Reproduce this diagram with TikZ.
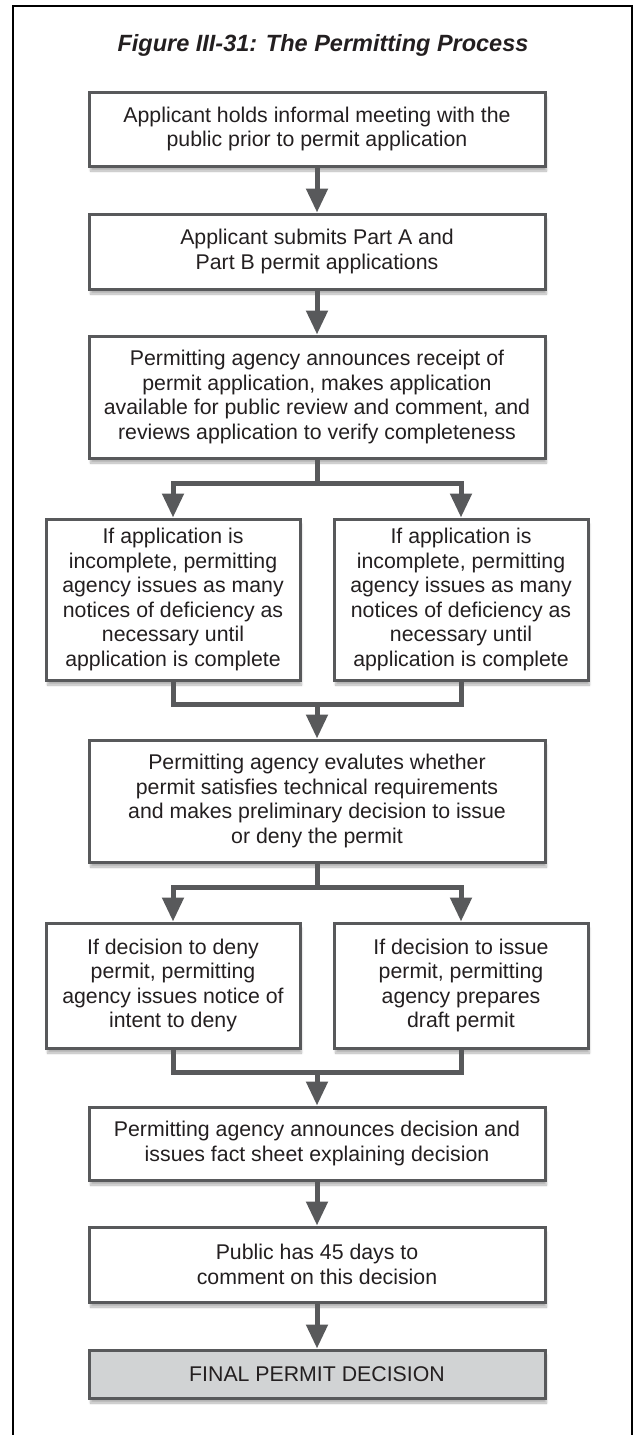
\documentclass[tikz,border=0pt]{standalone}
\usepackage{fontspec}
\setmainfont{Liberation Sans}
\usetikzlibrary{arrows.meta, shadows.blur}

\definecolor{boxgray}{HTML}{58595B}
\definecolor{finalfill}{HTML}{D1D3D4}
\definecolor{inktext}{HTML}{231F20}

\tikzset{
  stepbox/.style={draw=boxgray, line width=3pt, fill=white, align=center, inner sep=0pt,
    minimum width=456pt, text=inktext, font=\fontsize{21.3}{24.5}\selectfont,
    blur shadow={shadow xshift=1.5pt, shadow yshift=-5pt, shadow blur steps=6, shadow opacity=30}},
  halfbox/.style={stepbox, minimum width=254pt},
  link/.style={draw=boxgray, line width=5pt},
  flow/.style={link, -{Triangle[width=21pt,length=24pt]}},
}

\begin{document}
\begin{tikzpicture}[x=1pt, y=-1pt]
  \useasboundingbox (0,0) rectangle (639,1435);
  \draw[line width=2.5pt] (13,1445) -- (13,6) -- (632,6) -- (632,1445);
  \node[font=\bfseries\itshape\fontsize{23.5}{27}\selectfont, text=inktext, anchor=base] (title) at (323,51) {Figure III-31: The Permitting Process};

  % main column
  \node[stepbox, minimum height=74pt] (meeting) at (317,129) {Applicant holds informal meeting with the\\public prior to permit application};
  \node[stepbox, minimum height=75pt] (submit) at (317,251.5) {Applicant submits Part A and\\Part B permit applications};
  \node[stepbox, minimum height=122pt] (receipt) at (317,397) {Permitting agency announces receipt of\\permit application, makes application\\available for public review and comment, and\\reviews application to verify completeness};
  \coordinate (split1) at (317,483);
  \node[halfbox, minimum height=161pt] (incL) at (173,599.5) {If application is\\incomplete, permitting\\agency issues as many\\notices of deficiency as\\necessary until\\application is complete};
  \node[halfbox, minimum height=161pt] (incR) at (461,599.5) {If application is\\incomplete, permitting\\agency issues as many\\notices of deficiency as\\necessary until\\application is complete};
  \coordinate (merge1) at (317,704);
  \node[stepbox, minimum height=122pt] (evaluate) at (317,801) {Permitting agency evalutes whether\\permit satisfies technical requirements\\and makes preliminary decision to issue\\or deny the permit};
  \coordinate (split2) at (317,887);
  \node[halfbox, minimum height=125pt] (deny) at (173,985.5) {If decision to deny\\permit, permitting\\agency issues notice of\\intent to deny};
  \node[halfbox, minimum height=125pt] (issue) at (461,985.5) {If decision to issue\\permit, permitting\\agency prepares\\draft permit};
  \coordinate (merge2) at (317,1072);
  \node[stepbox, minimum height=73pt] (announce) at (317,1143.5) {Permitting agency announces decision and\\issues fact sheet explaining decision};
  \node[stepbox, minimum height=75pt] (comment) at (317,1264.5) {Public has 45 days to\\comment on this decision};
  \node[stepbox, minimum height=48pt, fill=finalfill] (final) at (317,1374) {FINAL PERMIT DECISION};

  % connectors
  \draw[flow] (meeting) -- (submit);
  \draw[flow] (submit) -- (receipt);
  \draw[link] (receipt) -- (split1);
  \draw[flow] (split1) -| (incL);
  \draw[flow] (split1) -| (incR);
  \draw[link] (incL) |- (merge1) -| (incR);
  \draw[flow] (merge1) -- (evaluate);
  \draw[link] (evaluate) -- (split2);
  \draw[flow] (split2) -| (deny);
  \draw[flow] (split2) -| (issue);
  \draw[link] (deny) |- (merge2) -| (issue);
  \draw[flow] (merge2) -- (announce);
  \draw[flow] (announce) -- (comment);
  \draw[flow] (comment) -- (final);
\end{tikzpicture}
\end{document}
